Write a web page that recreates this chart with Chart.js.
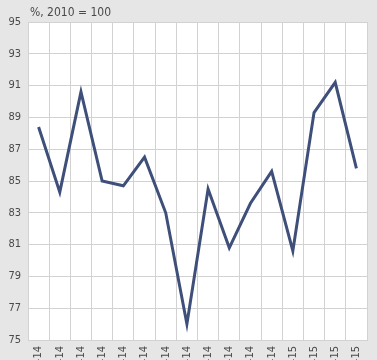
<!DOCTYPE html>
<html>
<head>
<meta charset="utf-8">
<script src="https://cdn.jsdelivr.net/npm/chart.js@4"></script>
<style>
  html, body { margin: 0; padding: 0; background: #e6e6e6; }
  #wrap { width: 377px; height: 360px; }
</style>
</head>
<body>
<div id="wrap"><canvas id="myChart" width="377" height="360"></canvas></div>
<script>
// Data
const months = ['Jan-14', 'Feb-14', 'Mar-14', 'Apr-14', 'May-14', 'Jun-14', 'Jul-14', 'Aug-14',
  'Sep-14', 'Oct-14', 'Nov-14', 'Dec-14', 'Jan-15', 'Feb-15', 'Mar-15', 'Apr-15'];
const values = [88.4, 84.3, 90.6, 85.0, 84.7, 86.5, 83.0, 76.0,
  84.5, 80.8, 83.6, 85.6, 80.6, 89.3, 91.2, 85.8];
const unitLabel = '%, 2010 = 100';

const fontFamily = '"Liberation Sans Narrow", "DejaVu Sans Condensed", sans-serif';

// white plot area + unit label
const plotBg = {
  id: 'plotBg',
  beforeDraw(chart) {
    const c = chart.ctx, a = chart.chartArea;
    c.save();
    c.fillStyle = '#ffffff';
    c.fillRect(a.left, a.top, a.right - a.left, a.bottom - a.top);
    c.restore();
  },
  afterDraw(chart) {
    const c = chart.ctx, a = chart.chartArea;
    c.save();
    c.font = '12px ' + fontFamily;
    c.fillStyle = '#4a4a4a';
    c.textBaseline = 'alphabetic';
    c.fillText(unitLabel, a.left + 2, a.top - 6);
    c.restore();
  }
};

const ctx = document.getElementById('myChart');
new Chart(ctx, {
  type: 'line',
  data: {
    labels: months,
    datasets: [{
      data: values,
      borderColor: '#3e4f7a',
      borderWidth: 3,
      pointRadius: 0,
      tension: 0,
      fill: false
    }]
  },
  options: {
    responsive: false,
    animation: false,
    layout: { padding: { top: 22, right: 10, left: 0, bottom: 0 } },
    plugins: { legend: { display: false }, tooltip: { enabled: false } },
    scales: {
      x: {
        offset: true,
        grid: { offset: true, color: '#d2d2d2', drawTicks: false },
        border: { color: '#d2d2d2' },
        ticks: {
          minRotation: 90, maxRotation: 90, autoSkip: false, padding: 6,
          color: '#4a4a4a', font: { family: fontFamily, size: 11 }
        },
        afterFit(scale) { scale.height = 20; }
      },
      y: {
        min: 75, max: 95,
        grid: { color: '#d2d2d2', drawTicks: false },
        border: { color: '#d2d2d2' },
        ticks: {
          stepSize: 2, padding: 7,
          color: '#4a4a4a', font: { family: fontFamily, size: 11 }
        },
        afterFit(scale) { scale.width = 28; }
      }
    }
  },
  plugins: [plotBg]
});
</script>
</body>
</html>
